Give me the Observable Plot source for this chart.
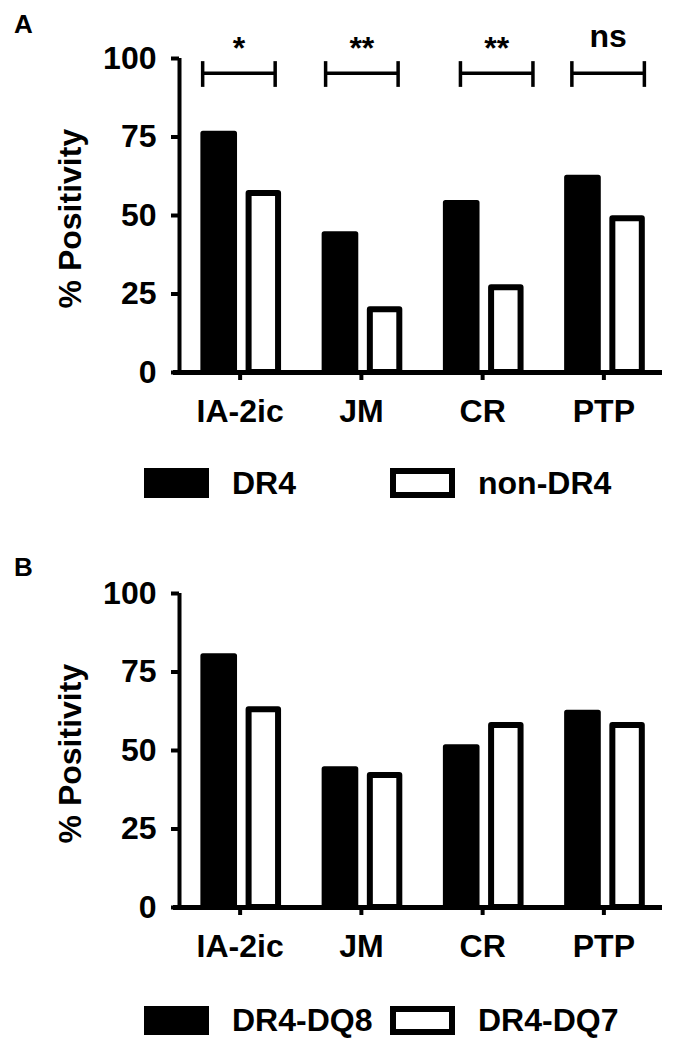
<!DOCTYPE html>
<html><head><meta charset="utf-8">
<script src="https://cdn.jsdelivr.net/npm/d3@7"></script>
<script src="https://cdn.jsdelivr.net/npm/@observablehq/plot@0.6"></script>
<style>
body{margin:0;background:#fff;}
#fig{position:relative;width:682px;height:1049px;font-family:"Liberation Sans",Arial,sans-serif;font-weight:bold;color:#000;background:#fff;}
.panel{position:absolute;left:0;}
.plabel{position:absolute;left:14px;font-size:26px;line-height:26px;}
.sw{position:absolute;width:65px;height:30px;box-sizing:border-box;}
.lt{position:absolute;font-size:32px;line-height:32px;white-space:nowrap;}
</style></head><body><div id="fig"></div>
<script>
// ---- data ----
const categories = ["IA-2ic", "JM", "CR", "PTP"];
const yTicks = [0, 25, 50, 75, 100];
const yLabel = "% Positivity";

const panelASeries = ["DR4", "non-DR4"];
const panelA_DR4 = [76, 44, 54, 62];
const panelA_nonDR4 = [57, 20, 27, 49];
const panelASignificance = ["*", "**", "**", "ns"];

const panelBSeries = ["DR4-DQ8", "DR4-DQ7"];
const panelB_DQ8 = [80, 44, 51, 62];
const panelB_DQ7 = [63, 42, 58, 58];

// ---- layout constants ----
const FILLED_X = [-0.303, -0.042];   // bar extent relative to category center (category units)
const OPEN_X = [0.074, 0.317];
const BRACKET_HALF = 0.299;
const BRACKET_CENTER = [-0.01, 0.004, 0.116, 0.035];
const BRACKET_Y = 95.3, BRACKET_Y1 = 90.8, BRACKET_Y2 = 99.0;
const FONT = "'Liberation Sans', Arial, Helvetica, sans-serif";

function makePanel(filled, open, sig) {
  const filledRows = categories.map((c, i) => ({cat: c, i, value: filled[i]}));
  const openRows = categories.map((c, i) => ({cat: c, i, value: open[i]}));
  const marks = [
    Plot.rectY(filledRows, {x1: d => d.i + FILLED_X[0], x2: d => d.i + FILLED_X[1], y1: 0, y2: "value",
      fill: "black", stroke: "black", strokeWidth: 5, strokeLinejoin: "round"}),
    Plot.rectY(openRows, {x1: d => d.i + OPEN_X[0], x2: d => d.i + OPEN_X[1], y1: 0, y2: "value",
      fill: "white", stroke: "black", strokeWidth: 6, strokeLinejoin: "round"}),
    Plot.ruleY([0], {insetLeft: -6, insetRight: 2, strokeWidth: 5, stroke: "black"}),
    Plot.ruleX([-0.5], {y1: 0, y2: 100, strokeWidth: 4, stroke: "black"}),
    Plot.axisY({ticks: yTicks, tickSize: 8, tickPadding: 15, strokeWidth: 4, label: null,
      fontSize: 32, fontWeight: "bold", stroke: "black"}),
    Plot.axisX({ticks: categories.map((c, i) => i), tickFormat: i => categories[i], tickSize: 8, tickPadding: 19,
      strokeWidth: 4, label: null, fontSize: 32, fontWeight: "bold", stroke: "black"}),
    Plot.text([yLabel], {text: d => d, y: () => 49, frameAnchor: "left", rotate: -90, dx: -99,
      lineAnchor: "bottom", textAnchor: "middle", fontSize: 32, fontWeight: "bold", fill: "black"})
  ];
  if (sig) {
    const br = sig.map((s, i) => ({s, i, x1: i + BRACKET_CENTER[i] - BRACKET_HALF, x2: i + BRACKET_CENTER[i] + BRACKET_HALF, xc: i + BRACKET_CENTER[i]}));
    marks.push(
      Plot.ruleY(br, {x1: "x1", x2: "x2", y: () => BRACKET_Y, strokeWidth: 3.5, stroke: "black"}),
      Plot.ruleX(br, {x: "x1", y1: () => BRACKET_Y1, y2: () => BRACKET_Y2, strokeWidth: 3.5, stroke: "black"}),
      Plot.ruleX(br, {x: "x2", y1: () => BRACKET_Y1, y2: () => BRACKET_Y2, strokeWidth: 3.5, stroke: "black"}),
      Plot.text(br, {x: "xc", y: d => d.s.includes("*") ? 100 : 103.6, text: "s", lineAnchor: "bottom",
        textAnchor: "middle", fontSize: 32, fontWeight: "bold", fill: "black"})
    );
  }
  return Plot.plot({
    width: 682, height: 440,
    marginLeft: 179, marginRight: 18, marginTop: 58, marginBottom: 68,
    x: {domain: [-0.5, 3.5]},
    y: {domain: [0, 100]},
    style: {fontFamily: FONT, fontSize: "32px", fontWeight: "bold", background: "white", color: "black", overflow: "visible"},
    marks
  });
}

const fig = document.getElementById("fig");
function place(el, top) { el.classList.add("panel"); el.style.top = top + "px"; fig.appendChild(el); }
function div(cls, style, text) {
  const d = document.createElement("div"); d.className = cls; Object.assign(d.style, style);
  if (text) d.textContent = text; fig.appendChild(d); return d;
}

place(makePanel(panelA_DR4, panelA_nonDR4, panelASignificance), 0);
place(makePanel(panelB_DQ8, panelB_DQ7, null), 535);

div("plabel", {top: "11px"}, "A");
div("plabel", {top: "554px"}, "B");

// legend A
div("sw", {left: "144px", top: "468px", background: "black"});
div("lt", {left: "232px", top: "467.4px"}, panelASeries[0]);
div("sw", {left: "390px", top: "468px", background: "white", border: "6px solid black"});
div("lt", {left: "478px", top: "467.4px"}, panelASeries[1]);
// legend B
div("sw", {left: "144px", top: "1006px", height: "29px", background: "black"});
div("lt", {left: "232px", top: "1004px"}, panelBSeries[0]);
div("sw", {left: "390px", top: "1006px", height: "29px", background: "white", border: "6px solid black"});
div("lt", {left: "478px", top: "1004px"}, panelBSeries[1]);
</script></body></html>
